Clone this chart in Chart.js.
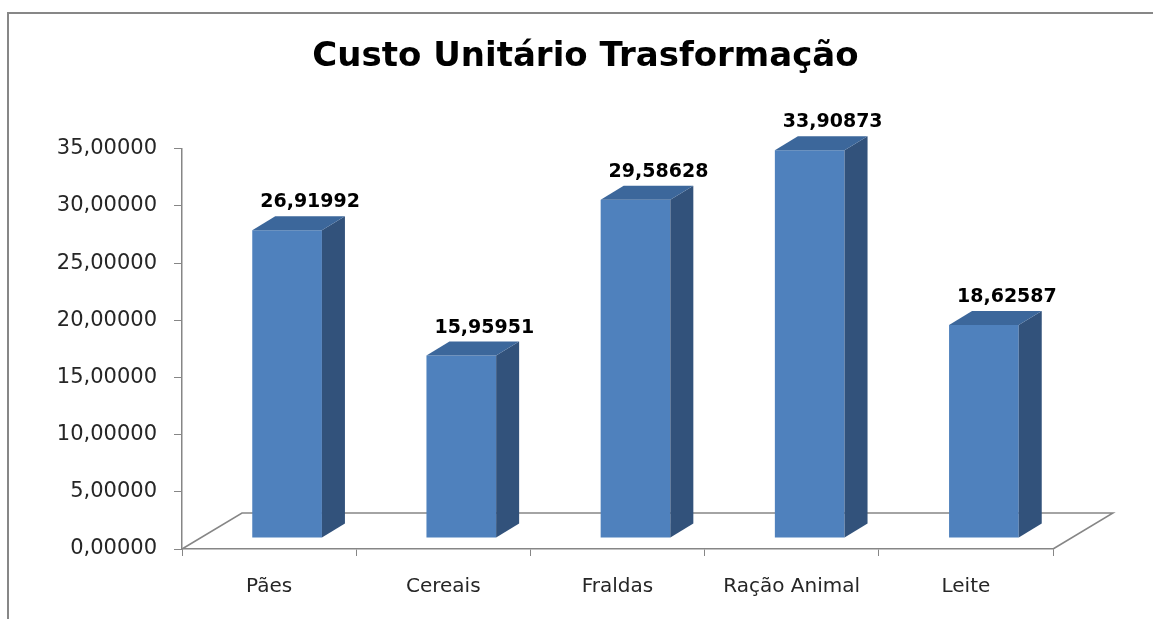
<!DOCTYPE html>
<html>
<head>
<meta charset="utf-8">
<script src="https://cdn.jsdelivr.net/npm/chart.js@4"></script>
<style>
  body { margin: 0; background: #ffffff; }
  #grafico { display: block; }
</style>
</head>
<body>
<canvas id="grafico" width="1153" height="619"></canvas>
<script>
// Dados do gráfico
const categorias = ['Pães', 'Cereais', 'Fraldas', 'Ração Animal', 'Leite'];
const custos = [26.91992, 15.95951, 29.58628, 33.90873, 18.62587];
const valoresEixoY = [0, 5, 10, 15, 20, 25, 30, 35];

// Formato brasileiro: vírgula e 5 casas decimais
function formatar(v) {
    return v.toFixed(5).replace('.', ',');
}

const corFrente = '#4f81bd';
const corTopo = '#3c679b';
const corLado = '#32527b';
const corEixo = '#868686';

// deslocamentos do efeito 3D
const desloc = { x: 18, y: -11 };   // barras ficam no meio do "piso"
const prof = { x: 23, y: -14 };     // profundidade de cada barra
const piso = { x: 60, y: -36 };     // profundidade do piso

const efeito3d = {
    id: 'efeito3d',
    beforeDraw(chart) {
        const ctx = chart.ctx;
        ctx.save();
        ctx.fillStyle = '#ffffff';
        ctx.fillRect(0, 0, chart.width, chart.height);
        // moldura (esquerda e topo)
        ctx.strokeStyle = '#878787';
        ctx.lineWidth = 2;
        ctx.beginPath();
        ctx.moveTo(8, chart.height);
        ctx.lineTo(8, 13);
        ctx.lineTo(chart.width, 13);
        ctx.stroke();
        ctx.restore();
    },
    beforeDatasetsDraw(chart) {
        const ctx = chart.ctx;
        const a = chart.chartArea;
        // piso em perspectiva
        ctx.save();
        ctx.strokeStyle = corEixo;
        ctx.lineWidth = 1.5;
        ctx.beginPath();
        ctx.moveTo(a.left, a.bottom);
        ctx.lineTo(a.left + piso.x, a.bottom + piso.y);
        ctx.lineTo(a.right + piso.x, a.bottom + piso.y);
        ctx.lineTo(a.right, a.bottom);
        ctx.stroke();
        ctx.restore();

        ctx.save();
        ctx.translate(desloc.x, desloc.y);
    },
    afterDatasetsDraw(chart) {
        const ctx = chart.ctx;
        const meta = chart.getDatasetMeta(0);
        meta.data.forEach((bar, i) => {
            const p = bar.getProps(['x', 'y', 'base', 'width'], true);
            const esq = p.x - p.width / 2;
            const dir = p.x + p.width / 2;
            // lateral
            ctx.fillStyle = corLado;
            ctx.beginPath();
            ctx.moveTo(dir, p.y);
            ctx.lineTo(dir + prof.x, p.y + prof.y);
            ctx.lineTo(dir + prof.x, p.base + prof.y);
            ctx.lineTo(dir, p.base);
            ctx.closePath();
            ctx.fill();
            // topo
            ctx.fillStyle = corTopo;
            ctx.beginPath();
            ctx.moveTo(esq, p.y);
            ctx.lineTo(esq + prof.x, p.y + prof.y);
            ctx.lineTo(dir + prof.x, p.y + prof.y);
            ctx.lineTo(dir, p.y);
            ctx.closePath();
            ctx.fill();
            // rótulo do valor
            ctx.fillStyle = '#000000';
            ctx.font = 'bold 19px "DejaVu Sans"';
            ctx.textAlign = 'center';
            ctx.textBaseline = 'alphabetic';
            ctx.fillText(formatar(custos[i]), p.x + prof.x, p.y + prof.y - 9);
        });
        ctx.restore();
    }
};

const ctx = document.getElementById('grafico').getContext('2d');
new Chart(ctx, {
    type: 'bar',
    data: {
        labels: categorias,
        datasets: [{
            data: custos,
            backgroundColor: corFrente,
            borderWidth: 0,
            barPercentage: 0.4,
            categoryPercentage: 1
        }]
    },
    options: {
        responsive: false,
        animation: false,
        layout: {
            padding: { left: 18, right: 0, top: 0, bottom: 0 }
        },
        plugins: {
            legend: { display: false },
            tooltip: { enabled: false },
            title: {
                display: true,
                text: 'Custo Unitário Trasformação',
                color: '#000000',
                font: { family: '"DejaVu Sans"', size: 34, weight: 'bold' },
                padding: { top: 37, bottom: 71 }
            }
        },
        scales: {
            x: {
                grid: {
                    display: true,
                    drawOnChartArea: false,
                    drawTicks: true,
                    tickLength: 7,
                    color: corEixo,
                    offset: true
                },
                border: { display: true, color: corEixo, width: 1.5 },
                ticks: {
                    color: '#262626',
                    font: { family: '"DejaVu Sans"', size: 20 },
                    padding: 19
                },
                afterFit(scale) { scale.height = 70; }
            },
            y: {
                min: 0,
                max: 35,
                grid: {
                    display: true,
                    drawOnChartArea: false,
                    drawTicks: true,
                    tickLength: 8,
                    color: corEixo
                },
                border: { display: true, color: corEixo, width: 1.5 },
                ticks: {
                    color: '#262626',
                    font: { family: '"DejaVu Sans"', size: 21 },
                    padding: 17,
                    callback: (v) => formatar(v)
                },
                afterBuildTicks(scale) {
                    scale.ticks = valoresEixoY.map(v => ({ value: v }));
                },
                afterFit(scale) { scale.width = 164; }
            },
            // eixo vazio à direita só para reservar o espaço
            margemDireita: {
                type: 'linear',
                position: 'right',
                display: true,
                grid: { display: false },
                border: { display: false },
                ticks: { display: false },
                afterFit(scale) { scale.width = 100; }
            }
        }
    },
    plugins: [efeito3d]
});
</script>
</body>
</html>
